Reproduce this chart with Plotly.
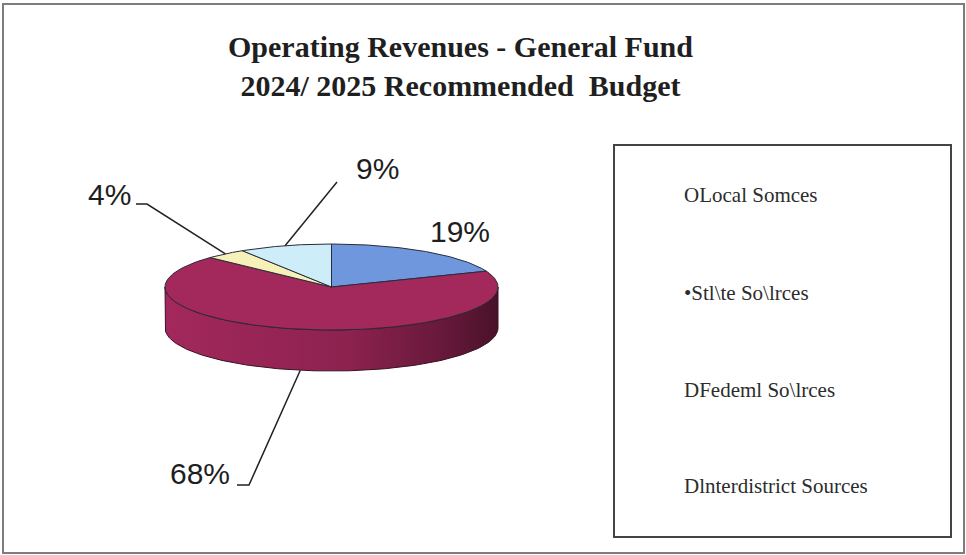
import numpy as np
import plotly.graph_objects as go

# ---- data -------------------------------------------------------------
sources = ["Local Sources", "State Sources", "Federal Sources", "Interdistrict Sources"]
shares = [19, 68, 4, 9]
pct_labels = ["19%", "68%", "4%", "9%"]
legend_labels = ["OLocal Somces", "\u2022Stl\\te So\\lrces", "DFedeml So\\lrces", "Dlnterdistrict Sources"]
title_lines = ["Operating Revenues - General Fund",
               "2024/ 2025 Recommended\u00a0\u00a0Budget"]

# ---- style ------------------------------------------------------------
top_colors = ["#6f97dd", "#a3285c", "#f6f1b8", "#cdeef8"]
W, H = 966, 555
CX, CY, RX, RY, DEPTH = 331.5, 287.0, 166.5, 43.0, 41.0   # tilted pie geometry (px)

# label placement: text centre and leader elbow points (anchor is computed)
label_pos = [(460, 231), (200, 473), (109, 194), (377, 168)]
label_elbows = [None, [(237, 485), (249, 485)], [(136, 204), (147, 204)], [(337, 182)]]

legend_x = 682
legend_y = [195, 293, 390, 486]


def shade(hex_color, f):
    r, g, b = (int(hex_color[i:i + 2], 16) for i in (1, 3, 5))
    return "#%02x%02x%02x" % (min(255, int(r * f)), min(255, int(g * f)), min(255, int(b * f)))


def rim(theta_deg, drop=0.0):
    t = np.radians(theta_deg)
    return CX + RX * np.sin(t), CY - RY * np.cos(t) + drop


total = float(sum(shares))
bounds = np.concatenate([[0.0], np.cumsum(shares)]) / total * 360.0

fig = go.Figure()

# visible side wall (front half of the pie)
for i, name in enumerate(sources):
    lo, hi = max(bounds[i], 90.0), min(bounds[i + 1], 270.0)
    if lo >= hi:
        continue
    th = np.linspace(lo, hi, 120)
    xt, yt = rim(th)
    xb, yb = rim(th[::-1], DEPTH)
    xs = np.concatenate([xt, xb, xt[:1]])
    ys = np.concatenate([yt, yb, yt[:1]])
    c = top_colors[i]
    fig.add_trace(go.Scatter(
        x=xs, y=ys, mode="lines", fill="toself",
        line=dict(color="#3a1222", width=1),
        fillgradient=dict(type="horizontal",
                          colorscale=[[0, shade(c, 1.0)], [0.55, shade(c, 0.86)],
                                      [0.85, shade(c, 0.62)], [1, shade(c, 0.45)]]),
        hoverinfo="skip", showlegend=False))

# top face slices
for i, name in enumerate(sources):
    th = np.linspace(bounds[i], bounds[i + 1], 150)
    xa, ya = rim(th)
    xs = np.concatenate([[CX], xa, [CX]])
    ys = np.concatenate([[CY], ya, [CY]])
    fig.add_trace(go.Scatter(
        x=xs, y=ys, mode="lines", fill="toself", fillcolor=top_colors[i],
        line=dict(color="#2b2b3a", width=1),
        name=name, hovertemplate=name + ": %{text}<extra></extra>",
        text=[pct_labels[i]] * len(xs), showlegend=False))

# percentage labels with leader lines
annotations = []
for i, lab in enumerate(pct_labels):
    mid = (bounds[i] + bounds[i + 1]) / 2.0
    if label_elbows[i] is not None:
        drop = DEPTH if 90.0 < mid < 270.0 else 0.0
        ax, ay = rim(mid, drop)
        pts = list(label_elbows[i]) + [(ax, ay)]
        fig.add_trace(go.Scatter(
            x=[p[0] for p in pts], y=[p[1] for p in pts], mode="lines",
            line=dict(color="#222222", width=1.5),
            hoverinfo="skip", showlegend=False))
    annotations.append(dict(
        x=label_pos[i][0], y=label_pos[i][1], xref="x", yref="y",
        text=lab, showarrow=False, xanchor="center", yanchor="middle",
        font=dict(family="Liberation Sans, Arial, sans-serif", size=30, color="#1e1e1e")))

# two-line title
annotations.append(dict(
    x=460, y=66, xref="x", yref="y",
    text="<br>".join("<b>%s</b>" % t for t in title_lines),
    showarrow=False, xanchor="center", yanchor="middle", align="center",
    font=dict(family="Liberation Serif, Times New Roman, serif", size=30, color="#1f1f1f")))

# legend entries
for lab, ly in zip(legend_labels, legend_y):
    annotations.append(dict(
        x=legend_x, y=ly, xref="x", yref="y", text=lab,
        showarrow=False, xanchor="left", yanchor="middle",
        font=dict(family="Liberation Serif, Times New Roman, serif", size=21, color="#2c2c2c")))

shapes = [
    dict(type="rect", xref="x", yref="y", x0=3, y0=4, x1=964, y1=553,
         line=dict(color="#7d7d7d", width=2), layer="below"),
    dict(type="rect", xref="x", yref="y", x0=614, y0=145, x1=951, y1=537,
         line=dict(color="#444444", width=2), layer="below"),
]

fig.update_layout(
    width=W, height=H, margin=dict(l=0, r=0, t=0, b=0),
    paper_bgcolor="white", plot_bgcolor="white",
    xaxis=dict(range=[0, W], visible=False, fixedrange=True),
    yaxis=dict(range=[H, 0], visible=False, fixedrange=True),
    annotations=annotations, shapes=shapes, showlegend=False,
)

fig.write_html("out.html")
